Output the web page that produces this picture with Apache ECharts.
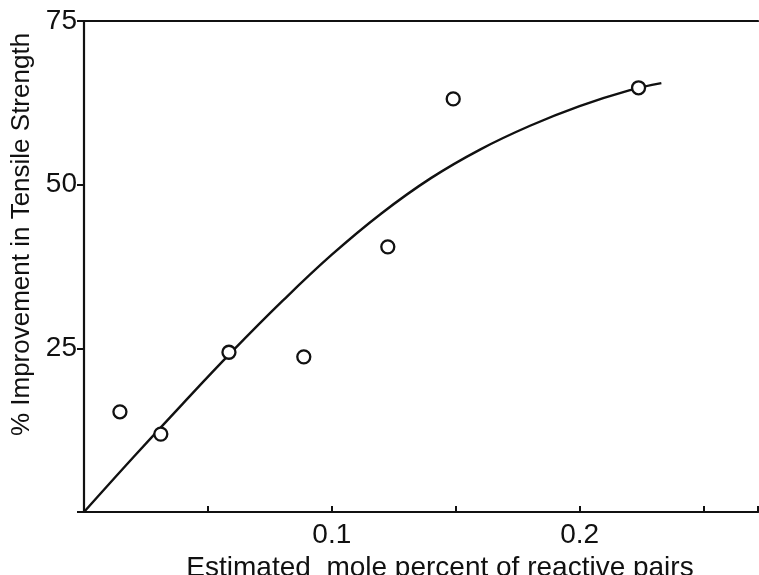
<!DOCTYPE html>
<html>
<head>
<meta charset="utf-8">
<script src="https://cdn.jsdelivr.net/npm/echarts@6/dist/echarts.min.js"></script>
<style>html,body{margin:0;padding:0;background:#fff}#c{width:759px;height:575px}</style>
</head>
<body>
<div id="c"></div>
<script>
// Measured data points (x: mole percent, y: % improvement)
const pointX = [0.0145, 0.031, 0.0585, 0.0887, 0.1226, 0.149, 0.2238];
const pointY = [15.3, 11.9, 24.4, 23.7, 40.5, 63.1, 64.8];
// Fitted curve
const curveX = [0, 0.02, 0.04, 0.06, 0.08, 0.10, 0.12, 0.14, 0.16, 0.18, 0.20, 0.22, 0.233];
const curveY = [0, 8.4, 16.6, 24.6, 32.2, 39.3, 45.6, 51.0, 55.4, 59.0, 62.0, 64.4, 65.5];
const xTickLabels = ['0.1', '0.2'];
const yTickLabels = ['25', '50', '75'];

const FONT = 'Liberation Sans';
const INK = '#111';
const chart = echarts.init(document.getElementById('c'), null, {renderer: 'canvas'});
chart.setOption({
  animation: false,
  backgroundColor: '#fff',
  grid: {left: 84, right: 1, top: 21, bottom: 63, containLabel: false, outerBoundsMode: 'none'},
  xAxis: [{
    type: 'value', min: 0, max: 0.272, interval: 0.05,
    name: 'Estimated  mole percent of reactive pairs',
    nameLocation: 'middle', nameGap: 39,
    nameTextStyle: {fontFamily: FONT, fontSize: 28, color: INK, padding: [0, 0, 0, 38]},
    axisLine: {show: true, lineStyle: {color: INK, width: 2.2}},
    axisTick: {show: true, inside: true, length: 6, lineStyle: {color: INK, width: 2}},
    axisLabel: {
      fontFamily: FONT, fontSize: 28, color: INK, margin: 9,
      formatter: v => {
        const s = (Math.round(v * 100) / 100).toString();
        return xTickLabels.includes(s) ? s : '';
      }
    },
    splitLine: {show: false}
  }, {
    type: 'value', min: 0, max: 0.272, position: 'top',
    axisLine: {show: true, onZero: false, lineStyle: {color: INK, width: 2.2}},
    axisTick: {show: false}, axisLabel: {show: false}, splitLine: {show: false}
  }],
  yAxis: {
    type: 'value', min: 0, max: 75, interval: 25,
    name: '% Improvement in Tensile Strength',
    nameLocation: 'middle', nameGap: 47, nameRotate: 90,
    nameTextStyle: {fontFamily: FONT, fontSize: 26, color: INK, padding: [0, 0, 0, 64]},
    axisLine: {show: true, lineStyle: {color: INK, width: 2.2}},
    axisTick: {show: true, length: 7, lineStyle: {color: INK, width: 2}},
    axisLabel: {
      fontFamily: FONT, fontSize: 28, color: INK, margin: 7,
      formatter: v => yTickLabels.includes(String(v)) ? String(v) : ''
    },
    splitLine: {show: false}
  },
  series: [{
    type: 'line',
    data: curveX.map((x, i) => [x, curveY[i]]),
    smooth: 0.4, showSymbol: false, symbol: 'none',
    lineStyle: {color: INK, width: 2.4}, z: 2
  }, {
    type: 'scatter',
    data: pointX.map((x, i) => [x, pointY[i]]),
    symbol: 'circle', symbolSize: 13,
    itemStyle: {color: '#fff', borderColor: INK, borderWidth: 2.3, opacity: 1}, z: 3
  }]
});
</script>
</body>
</html>
